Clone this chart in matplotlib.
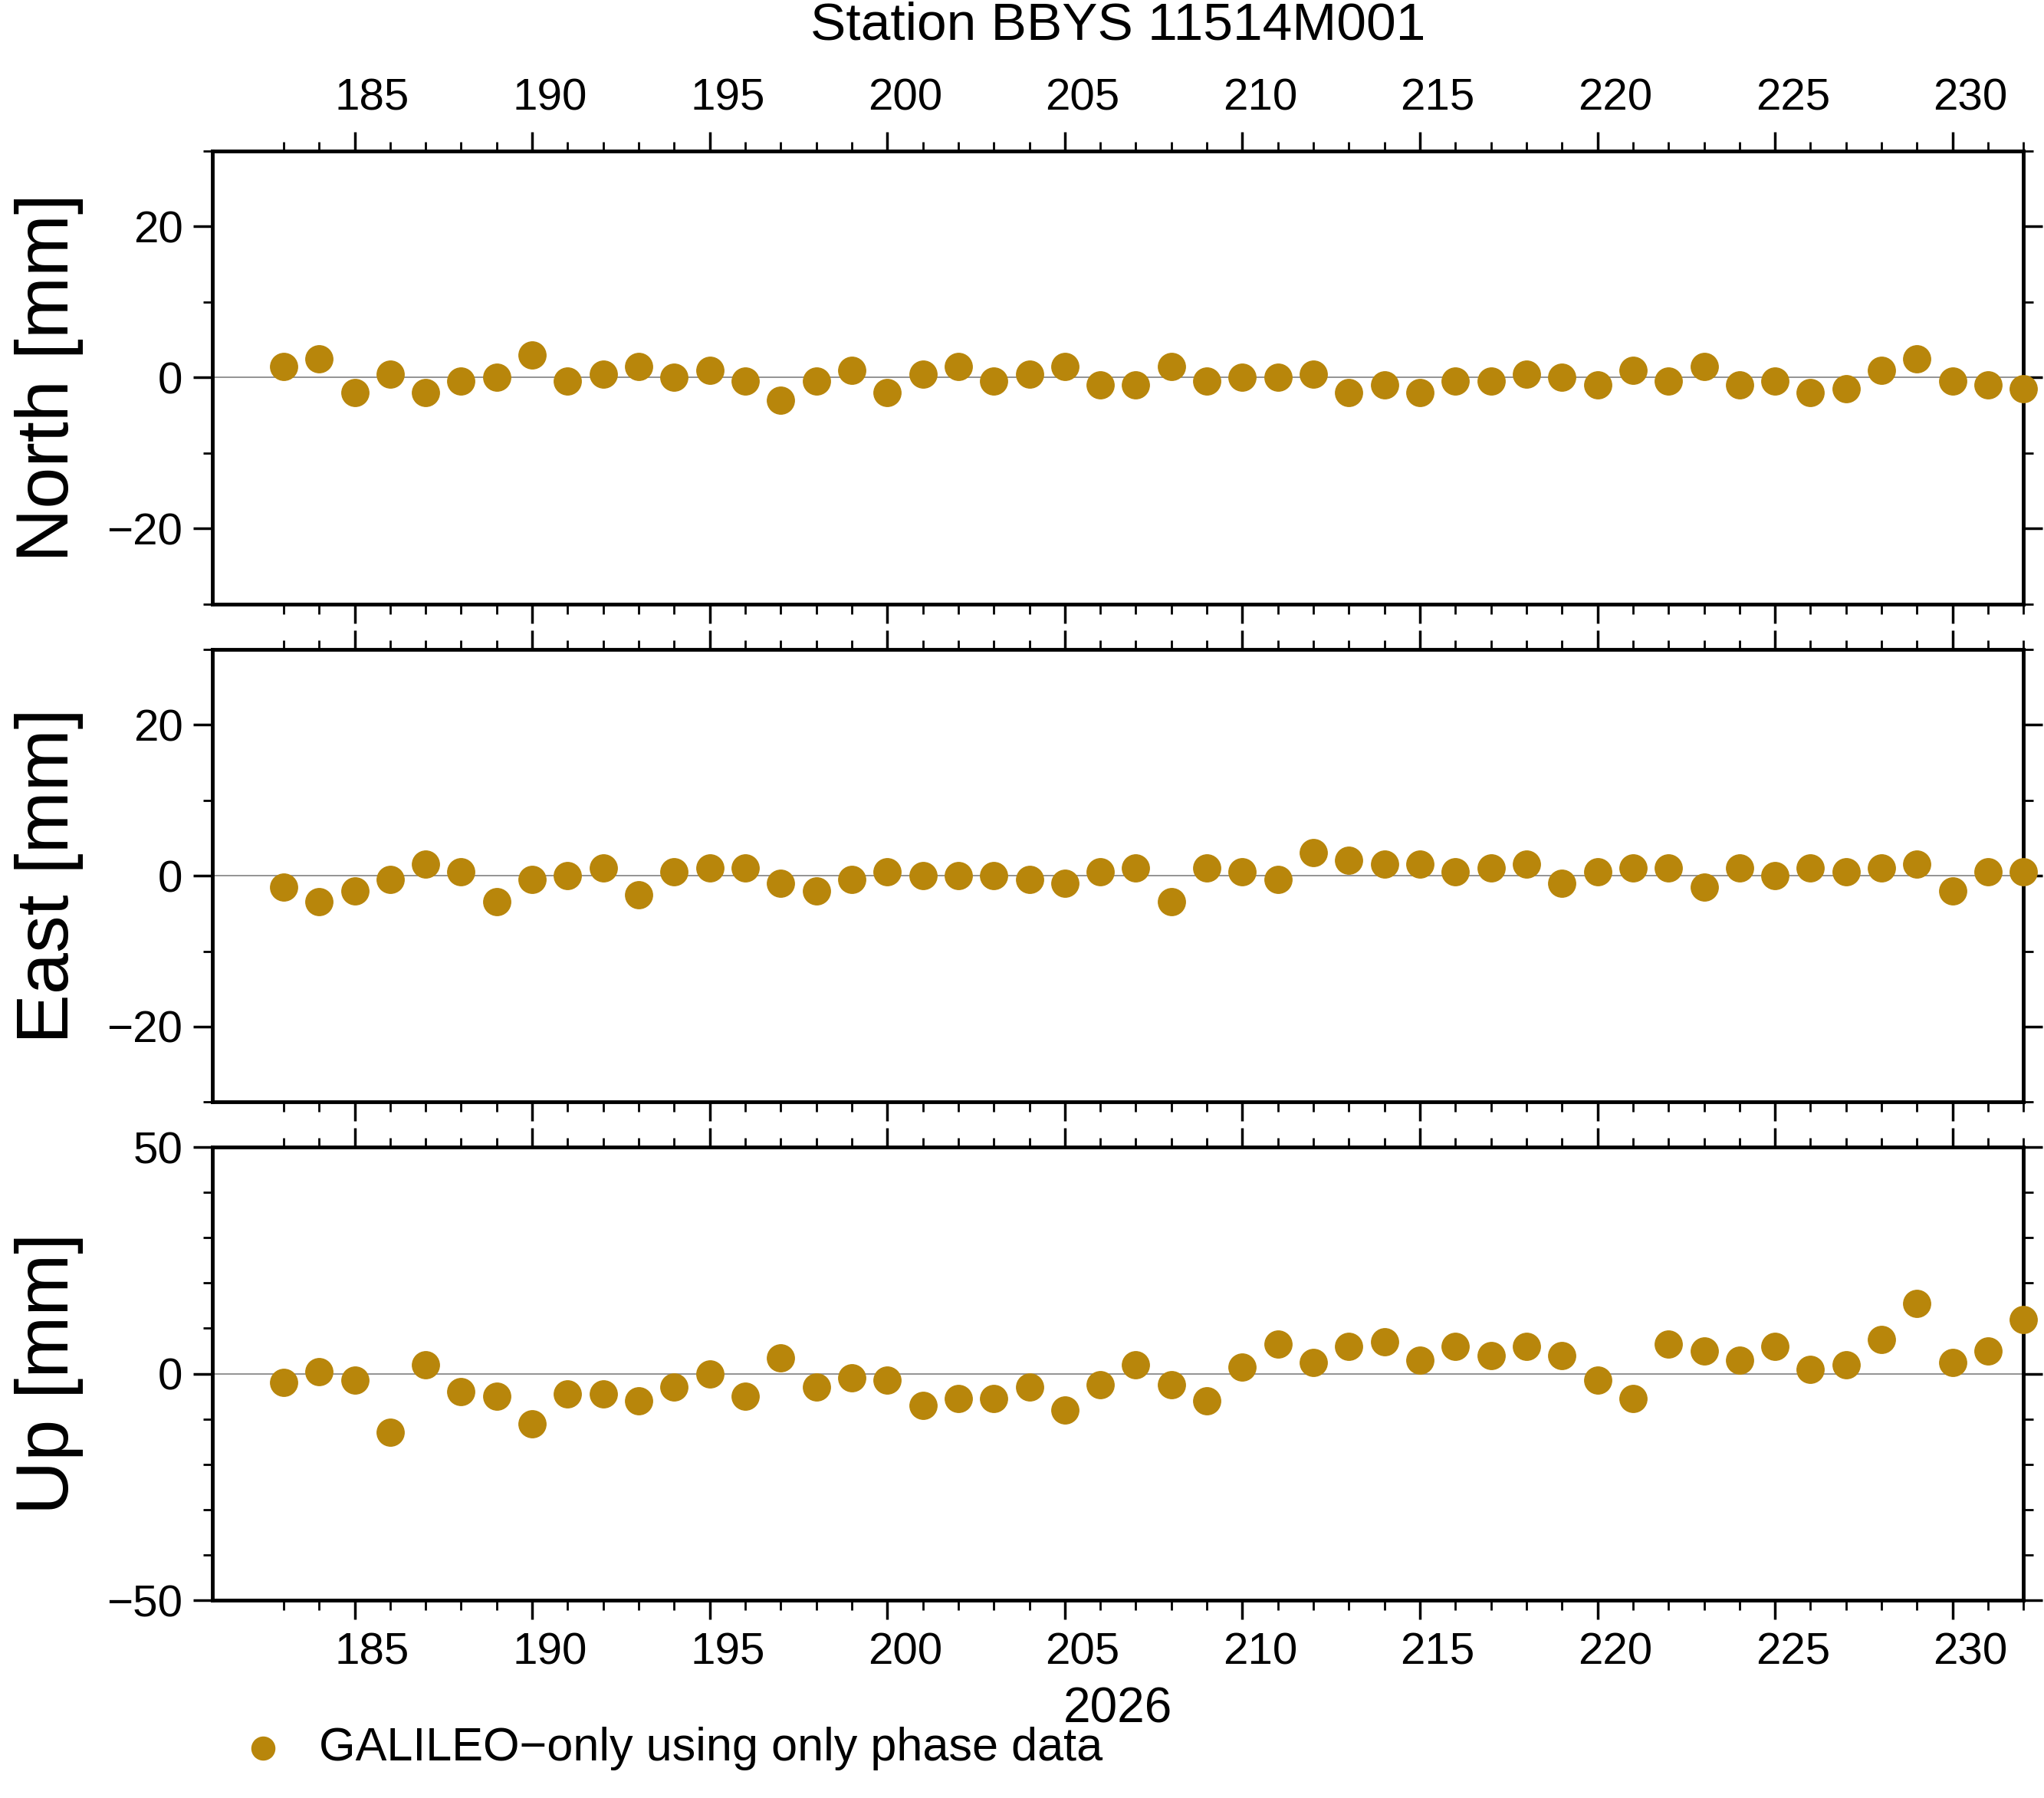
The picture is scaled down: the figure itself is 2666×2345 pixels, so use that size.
import numpy as np
import matplotlib.pyplot as plt
plt.rcParams.update({'font.size': 42, 'font.family': 'Liberation Sans'})
plt.rcParams.update({'axes.linewidth': 3.5, 'xtick.major.width': 2.5, 'ytick.major.width': 2.5,
                     'xtick.minor.width': 2.0, 'ytick.minor.width': 2.0})

days = np.arange(183, 233)

north = [1.5, 2.5, -2, 0.5, -2, -0.5, 0, 3, -0.5, 0.5,
         1.5, 0, 1, -0.5, -3, -0.5, 1, -2, 0.5, 1.5,
         -0.5, 0.5, 1.5, -1, -1, 1.5, -0.5, 0, 0, 0.5,
         -2, -1, -2, -0.5, -0.5, 0.5, 0, -1, 1, -0.5,
         1.5, -1, -0.5, -2, -1.5, 1, 2.5, -0.5, -1, -1.5]
east = [-1.5, -3.5, -2, -0.5, 1.5, 0.5, -3.5, -0.5, 0, 1,
        -2.5, 0.5, 1, 1, -1, -2, -0.5, 0.5, 0, 0,
        0, -0.5, -1, 0.5, 1, -3.5, 1, 0.5, -0.5, 3,
        2, 1.5, 1.5, 0.5, 1, 1.5, -1, 0.5, 1, 1,
        -1.5, 1, 0, 1, 0.5, 1, 1.5, -2, 0.5, 0.5]
up = [-2, 0.5, -1.5, -13, 2, -4, -5, -11, -4.5, -4.5,
      -6, -3, 0, -5, 3.5, -3, -1, -1.5, -7, -5.5,
      -5.5, -3, -8, -2.5, 2, -2.5, -6, 1.5, 6.5, 2.5,
      6, 7, 3, 6, 4, 6, 4, -1.5, -5.5, 6.5,
      5, 3, 6, 1, 2, 7.5, 15.5, 2.5, 5, 12]

color = "#b8860b"

fig = plt.figure(figsize=(26.66, 23.45), dpi=100)
boxes = [[0.104, 0.664, 0.886, 0.252],
         [0.104, 0.387, 0.886, 0.252],
         [0.104, 0.110, 0.886, 0.252]]
series = [(north, "North [mm]", 30, 20), (east, "East [mm]", 30, 20), (up, "Up [mm]", 50, 50)]

for i, (box, (values, label, lim, major)) in enumerate(zip(boxes, series)):
    ax = fig.add_axes(box)
    ax.axhline(0, color="gray", linewidth=1.2, zorder=0)
    ax.scatter(days, values, s=650, color=color, zorder=3, clip_on=False,
               label="GALILEO\u2212only using only phase data")

    ax.set_xlim(181, 232)
    ax.set_ylim(-lim, lim)
    ticks = np.arange(-lim, lim + 1, major) if lim == major else np.array([-major, 0, major])
    ax.set_yticks(ticks)
    ax.set_yticks(np.arange(-lim, lim + 1, 10), minor=True)
    ax.set_yticklabels([str(int(t)).replace("-", "\u2212") for t in ticks])
    ax.set_xticks(np.arange(185, 232, 5))
    ax.set_xticks(days, minor=True)
    ax.set_xticklabels([])
    ax.tick_params(which="both", direction="out", top=True, right=True)
    ax.tick_params(which="major", length=18, pad=10)
    ax.tick_params(which="minor", length=9)
    ax.set_ylabel(label, fontsize=70, labelpad=22)

    if i == 0:
        for d in range(185, 232, 5):
            ax.text(d + 0.5, 1.07, str(d), transform=ax.get_xaxis_transform(), ha="center", va="bottom")
        ax.set_title("Station BBYS 11514M001", fontsize=50, pad=105)
    if i == 2:
        for d in range(185, 232, 5):
            ax.text(d + 0.5, -0.07, str(d), transform=ax.get_xaxis_transform(), ha="center", va="top")
        ax.text(0.5, -0.19, "2026", transform=ax.transAxes, ha="center", va="top", fontsize=46)
        handles, labels = ax.get_legend_handles_labels()
        fig.legend(handles, labels, loc="lower left", bbox_to_anchor=(0.085, -0.008), frameon=False,
                   handletextpad=0.2, markerscale=0.85, fontsize=44)

fig.savefig("out.png")
